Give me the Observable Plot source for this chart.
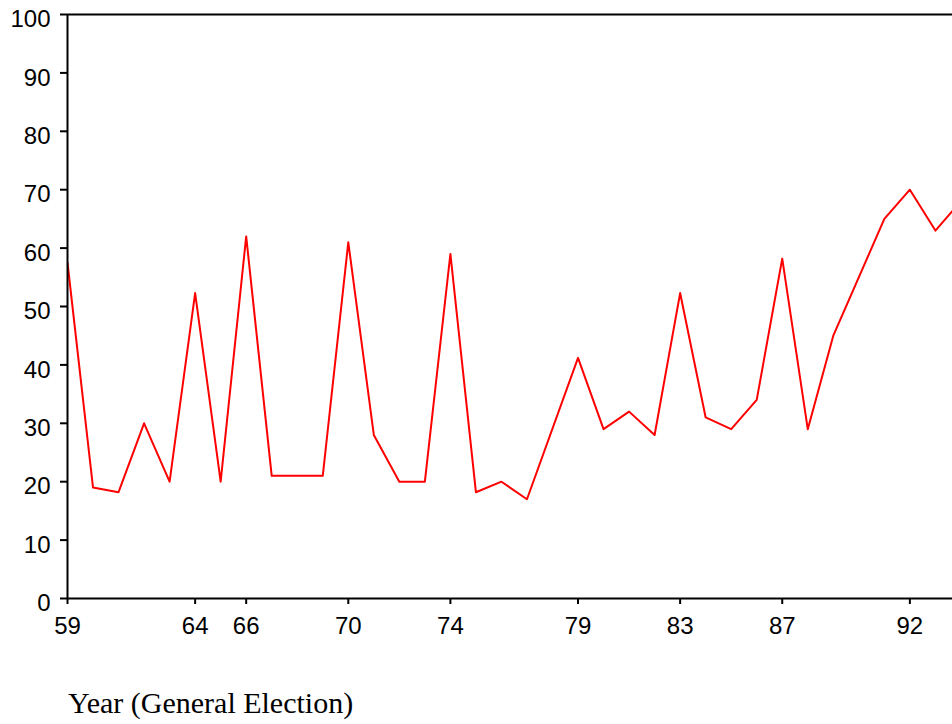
<!DOCTYPE html>
<html>
<head>
<meta charset="utf-8">
<script src="https://cdn.jsdelivr.net/npm/d3@7"></script>
<script src="https://cdn.jsdelivr.net/npm/@observablehq/plot@0.6"></script>
<style>
  html, body { margin: 0; padding: 0; background: #fff; overflow: hidden; }
  #wrap { position: relative; width: 952px; height: 724px; }
  #chart svg { display: block; }
  #xlabel { position: absolute; left: 68px; top: 686px; font-family: "Liberation Serif", "Times New Roman", serif; font-size: 30px; line-height: 34px; color: #000; white-space: nowrap; }
</style>
</head>
<body>
<div id="wrap"><div id="chart"></div><div id="xlabel">Year (General Election)</div></div>
<script>
const years = [59,60,61,62,63,64,65,66,67,68,69,70,71,72,73,74,75,76,77,79,80,81,82,83,84,85,86,87,88,89,91,92,93,94];
const values = [57.5,19,18.2,30,20,52.3,20,62,21,21,21,61,28,20,20,59,18.2,20,17,41.2,29,32,28,52.3,31,29,34,58.2,29,45,65,70,63,68];
const xTicks = [59,64,66,70,74,79,83,87,92];
const yTicks = [0,10,20,30,40,50,60,70,80,90,100];

const data = years.map((y, i) => ({year: y, value: values[i]}));

const chart = Plot.plot({
  width: 952,
  height: 640,
  marginLeft: 67,
  marginRight: 0,
  marginTop: 14,
  marginBottom: 42,
  style: {fontFamily: "'Liberation Sans', Arial, sans-serif", fontSize: "24px", color: "#000", background: "#fff"},
  x: {domain: [59, 93.67], label: null},
  y: {domain: [0, 100], label: null},
  marks: [
    Plot.line(data, {x: "year", y: "value", stroke: "#ff0000", strokeWidth: 2, clip: true}),
    Plot.ruleY([0, 100], {stroke: "#000", strokeWidth: 2}),
    Plot.ruleX([59], {stroke: "#000", strokeWidth: 2}),
    Plot.axisY({ticks: yTicks, tickSize: 7, strokeWidth: 2, label: null, tickFormat: () => ""}),
    Plot.axisY({ticks: yTicks, tickSize: 0, tickPadding: 17, dy: 5, label: null, fontSize: 24}),
    Plot.axisX({ticks: xTicks, tickSize: 6, tickPadding: 12, strokeWidth: 2, label: null, fontSize: 24, tickFormat: d => String(d)})
  ]
});
document.getElementById("chart").appendChild(chart);
</script>
</body>
</html>
